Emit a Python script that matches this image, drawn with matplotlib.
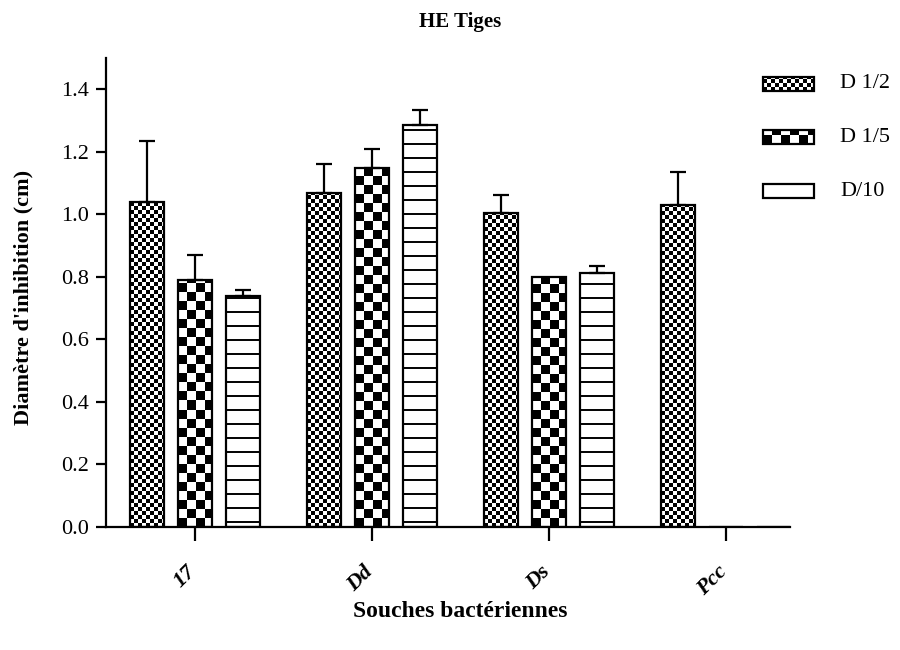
import numpy as np
import matplotlib
matplotlib.use('Agg')
import matplotlib.pyplot as plt
import matplotlib.transforms as mtransforms
from matplotlib.patches import Rectangle

# HE Tiges - inhibition diameter per strain and dilution
strains = ['17', 'Dd', 'Ds', 'Pcc']
doses = ['D 1/2', 'D 1/5', 'D/10']
d12 = [1.04, 1.067, 1.003, 1.029]
d15 = [0.79, 1.147, 0.799, 0.0]
d10 = [0.738, 1.286, 0.813, 0.0]
err12 = [0.194, 0.095, 0.058, 0.106]
err15 = [0.08, 0.063, 0.0, 0.0]
err10 = [0.019, 0.047, 0.023, 0.0]

values = [d12, d15, d10]
errors = [err12, err15, err10]
patterns = ['fine', 'coarse', 'lines']

plt.rcParams['font.family'] = ['Liberation Serif', 'DejaVu Serif']

W, H, DPI = 9, 6.5, 100
fig = plt.figure(figsize=(W, H), dpi=DPI)
pos = [106 / 900, 123 / 650, 684 / 900, 469 / 650]
ax = fig.add_axes(pos)
xmin, xmax = -0.503, 3.36
ymin, ymax = 0, 1.5
ax.set_xlim(xmin, xmax)
ax.set_ylim(ymin, ymax)

px_x = W * DPI * pos[2] / (xmax - xmin)
px_y = H * DPI * pos[3] / (ymax - ymin)


def checker(c, w, h):
    i, j = np.mgrid[0:h, 0:w]
    return ((i // c + j // c) % 2).astype(float)


def fill_patch(a, patch, kind, x0, x1, y0, y1, w, h, per_px_y):
    if kind == 'lines':
        # horizontal rules every 14 px, drawn as vectors
        ys = y0 + (np.arange(5, h, 14)) / per_px_y
        lc = a.hlines(ys, x0, x1, colors='black', linewidth=1.4, zorder=2.5)
        lc.set_clip_path(patch)
        return
    c = 4 if kind == 'fine' else 9
    img = a.imshow(checker(c, max(w, 1), max(h, 1)), cmap='gray', vmin=0, vmax=1,
                   extent=(x0, x1, y0, y1), origin='lower', interpolation='nearest',
                   aspect='auto', zorder=2.5)
    img.set_clip_path(patch)


x = np.arange(len(strains))
offset = 0.271
width = 0.192
for k in range(3):
    xs = x + (k - 1) * offset
    bars = ax.bar(xs, values[k], width, color='white', edgecolor='none', zorder=2)
    for b in bars:
        if b.get_height() <= 0:
            continue
        bx = b.get_x()
        # texture spans the full axes height, clipped to the bar
        fill_patch(ax, b, patterns[k], bx, bx + width, ymin, ymax,
                   int(round(width * px_x)), int(round((ymax - ymin) * px_y)), px_y)
    ax.bar(xs, values[k], width, fill=False, edgecolor='black', linewidth=1.6, zorder=3)
    e = np.array(errors[k])
    m = e > 0
    ax.errorbar(xs[m], np.array(values[k])[m], yerr=[np.zeros(m.sum()), e[m]],
                fmt='none', ecolor='black', elinewidth=1.6, capsize=5.5, capthick=1.6,
                zorder=3)
ax.set_xlim(xmin, xmax)
ax.set_ylim(ymin, ymax)

ax.spines['top'].set_visible(False)
ax.spines['right'].set_visible(False)
for s in ['left', 'bottom']:
    ax.spines[s].set_linewidth(1.6)

ax.set_yticks(np.arange(0, 1.41, 0.2))
ax.set_yticklabels(['%.1f' % v for v in np.arange(0, 1.41, 0.2)], fontsize=16)
ax.tick_params(axis='y', length=7, width=1.6, pad=5)
ax.set_xticks(x)
ax.set_xticklabels(strains, rotation=45, fontsize=16, fontweight='bold', style='italic',
                   ha='right', rotation_mode='anchor')
ax.tick_params(axis='x', length=10, width=1.6, pad=15)
shift = mtransforms.ScaledTranslation(-9 / 100, 0, fig.dpi_scale_trans)
for lab in ax.get_xticklabels():
    lab.set_transform(lab.get_transform() + shift)

ax.set_ylabel("Diamètre d'inhibition (cm)", fontsize=16, fontweight='bold', va='center')
ax.yaxis.set_label_coords(-0.12, 0.49)
ax.set_xlabel('Souches bactériennes', fontsize=17, fontweight='bold', va='center')
ax.xaxis.set_label_coords(0.5175, -0.18)
fig.text(460 / 900, 1 - 22 / 650, 'HE Tiges', fontsize=15, fontweight='bold',
         ha='center', va='center')

# legend drawn on an overlay in pixel units
lax = fig.add_axes([0, 0, 1, 1])
lax.set_xlim(0, 900)
lax.set_ylim(0, 650)
lax.axis('off')
lax.patch.set_alpha(0)
leg_y = [84, 137, 191]
for k in range(3):
    yc = 650 - leg_y[k]
    r = Rectangle((763, yc - 7), 51, 14, facecolor='white', edgecolor='none', zorder=2)
    lax.add_patch(r)
    if patterns[k] != 'lines':
        fill_patch(lax, r, patterns[k], 763, 814, yc - 7, yc + 7, 51, 14, 1.0)
    lax.add_patch(Rectangle((763, yc - 7), 51, 14, fill=False, edgecolor='black',
                            linewidth=1.6, zorder=3))
    lax.text(840, yc, doses[k], fontsize=16, ha='left', va='center')

fig.savefig('out.png', dpi=DPI)
